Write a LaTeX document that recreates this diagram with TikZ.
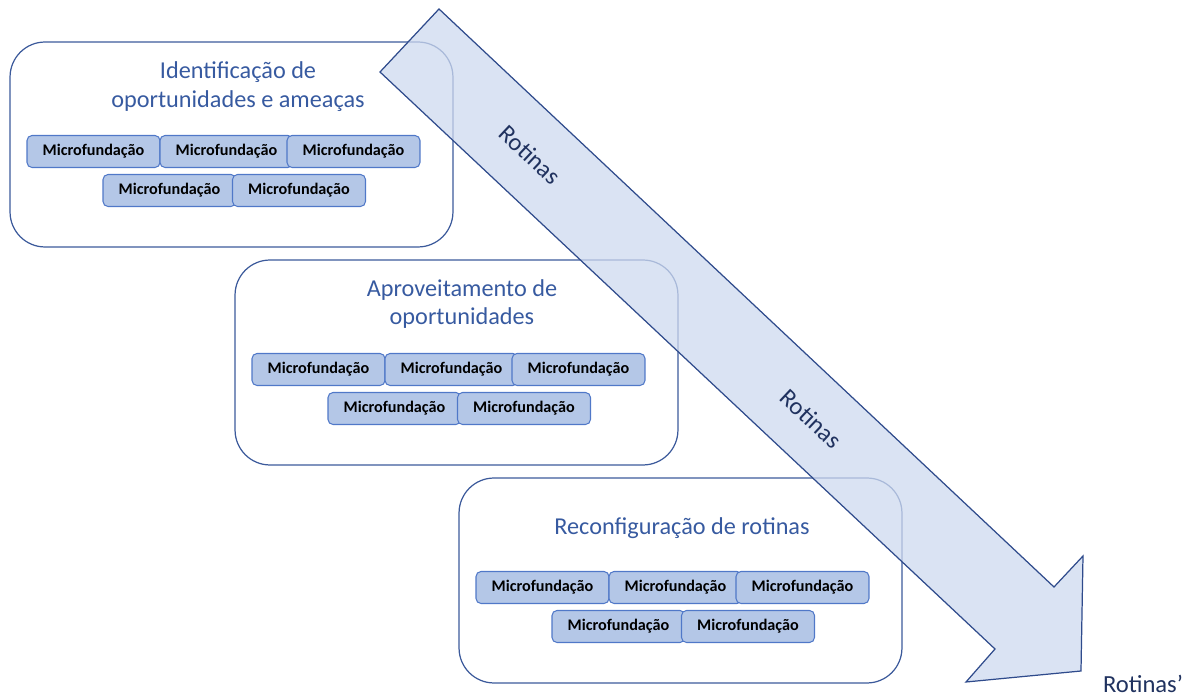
\documentclass[tikz,border=0pt]{standalone}
\usepackage{fontspec}
\setmainfont{Carlito}
\definecolor{titleblue}{RGB}{55,90,160}
\definecolor{boxline}{RGB}{60,90,155}
\definecolor{microfill}{RGB}{180,199,231}
\definecolor{microline}{RGB}{80,120,200}
\definecolor{arrowfill}{RGB}{206,218,239}
\definecolor{arrowline}{RGB}{47,75,140}
\definecolor{rotcol}{RGB}{32,50,95}
\tikzset{
  bigbox/.style={draw=boxline, line width=0.7pt, rounded corners=0.7cm, minimum width=8.86cm, minimum height=4.1cm, inner sep=0pt},
  micro/.style={draw=microline, fill=microfill, line width=0.6pt, rounded corners=0.1cm, minimum width=2.66cm, minimum height=0.64cm, inner sep=0pt, font=\fontsize{9.2}{11}\selectfont\bfseries, text=black},
  title/.style={text=titleblue, font=\fontsize{13.8}{16.4}\selectfont, align=center},
  rot/.style={text=rotcol, font=\fontsize{14}{16}\selectfont},
}
\newcommand{\mgroup}[3]{%
  \node[micro] (#3a) at (#1+93.5,#2+151.5) {Microfundação};
  \node[micro] (#3b) at (#1+226.5,#2+151.5) {Microfundação};
  \node[micro] (#3c) at (#1+353.5,#2+151.5) {Microfundação};
  \node[micro] (#3d) at (#1+169.5,#2+190.5) {Microfundação};
  \node[micro] (#3e) at (#1+299,#2+190.5) {Microfundação};
}
\begin{document}
\begin{tikzpicture}[x=0.02cm,y=-0.02cm]
\useasboundingbox (0,0) rectangle (1188,695);
% boxes
\node[bigbox] (box1) at (231.5,144.5) {};
\node[bigbox] (box2) at (456.5,362.5) {};
\node[bigbox] (box3) at (680.5,580.5) {};
\node[title] (t1) at (238,86.5) {Identificação de\\oportunidades e ameaças};
\node[title] (t2) at (462,304) {Aproveitamento de\\oportunidades};
\node[title] (t3) at (682,528) {Reconfiguração de rotinas};
\mgroup{0}{0}{m1}
\mgroup{225}{218}{m2}
\mgroup{449}{436}{m3}
% arrow
\path[fill=arrowfill, fill opacity=0.75, draw=arrowline, line width=0.7pt, line join=miter]
  (380,72) -- (439,9) -- (1054,587) -- (1083,556) -- (1081,671) -- (966,682) -- (995,649) -- cycle;
\node[rot, rotate=-43.2] (r1) at (530,155) {Rotinas};
\node[rot, rotate=-43.2] (r2) at (811,419) {Rotinas};
\node[rot] (r3) at (1143,684) {Rotinas’};
\end{tikzpicture}
\end{document}
